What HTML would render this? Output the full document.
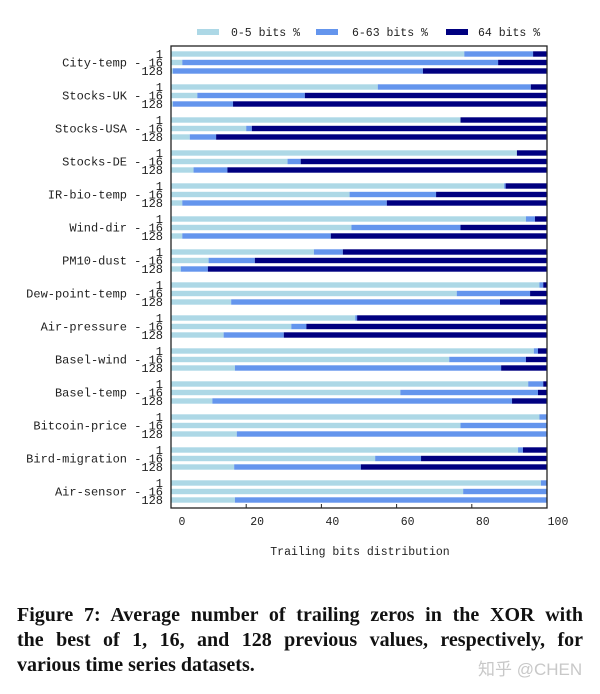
<!DOCTYPE html>
<html><head><meta charset="utf-8">
<style>
body{margin:0;background:#fff;width:600px;height:694px;overflow:hidden;position:relative}
#cap{position:absolute;left:17px;top:603px;width:566px;font:bold 20px/25px "Liberation Serif",serif;color:#111}
#cap div{white-space:nowrap}
#cap .j{text-align:justify;text-align-last:justify;white-space:normal}
#wm{position:absolute;left:478px;top:655px;font:17px "Liberation Sans","Noto Sans CJK SC",sans-serif;color:#c8c8c8}
</style></head><body>
<svg id="chart" width="600" height="600" style="position:absolute;left:0;top:0" font-family="Liberation Mono, monospace"></svg>
<div id="cap"><div class="j">Figure 7: Average number of trailing zeros in the XOR with</div><div class="j">the best of 1, 16, and 128 previous values, respectively, for</div><div>various time series datasets.</div></div>
<div id="wm">知乎 @CHEN</div>
<script>
const datasets=["City-temp","Stocks-UK","Stocks-USA","Stocks-DE","IR-bio-temp","Wind-dir","PM10-dust","Dew-point-temp","Air-pressure","Basel-wind","Basel-temp","Bitcoin-price","Bird-migration","Air-sensor"];
const windows=["1","16","128"];
// 0-5 bits % per dataset, rows [1,16,128]
const low=[[78,3,0.5],[55,7,0.5],[77,20,5],[92,31,6],[88.6,47.5,3],[94.4,48,3],[38,10,2.6],[98,76,16],[49,32,14],[96.5,74,17],[95,61,11],[98,77,17.5],[92.3,54.3,16.8],[98.4,77.7,17]];
// 6-63 bits %
const mid=[[18.3,84,66.5],[40.7,28.6,16],[0,1.5,7],[0,3.5,9],[0.4,23,54.4],[2.4,29,39.5],[7.7,12.3,7.2],[1,19.5,71.5],[0.5,4,16],[1.1,20.4,70.8],[4,36.6,79.7],[2,23,82.5],[1.3,12.2,33.7],[1.6,22.3,83]];
// 64 bits % = remainder
const xTicks=[0,20,40,60,80,100];
const legendLabels=["0-5 bits %","6-63 bits %","64 bits %"];
const colors=["#add8e6","#6495ed","#000080"];
const svg=document.getElementById('chart');
const NS="http://www.w3.org/2000/svg";
const L=171,R=547,T=46,B=508;
const x=v=>L+(R-L)*v/100;
const yRow=(g,r)=>54+g*33+r*8.5;
function mk(tag,attrs,parent){const e=document.createElementNS(NS,tag);for(const k in attrs)e.setAttribute(k,attrs[k]);(parent||svg).appendChild(e);return e;}
const lx=[197,316,446],tx=[231,352,478];
legendLabels.forEach((l,i)=>{
 const r=mk('rect',{x:lx[i],y:29,width:22,height:6,fill:colors[i]});
 
 
 const t=mk('text',{x:tx[i],y:36,'font-size':11.5,fill:'#222'});
 t.textContent=l;
 
 
});
datasets.forEach((d,g)=>{
 windows.forEach((w,r)=>{
  const vals=[low[g][r],mid[g][r],Math.max(0,100-low[g][r]-mid[g][r])];
  let acc=0;const y=yRow(g,r);
  vals.forEach((v,s)=>{
   if(v>0){const b=mk('rect',{x:x(acc),y:y-2.7,width:x(acc+v)-x(acc),height:5.4,fill:colors[s]});
   
   }
   acc+=v;
  });
  const t=mk('text',{x:163,y:y+4,'font-size':12,'text-anchor':'end',fill:'#222'});
  t.textContent=(r===1?d+" - ":"")+w;
  
  
 });
});
const f=mk('rect',{x:L,y:T,width:R-L,height:B-T,fill:'none',stroke:'#222','stroke-width':1.3});


xTicks.forEach(v=>{
 const tk=mk('line',{x1:x(v),x2:x(v),y1:B,y2:B-4,stroke:'#222'});
 
 
 const t=mk('text',{x:x(v)+11,y:525,'font-size':11.5,'text-anchor':'middle',fill:'#222'});
 t.textContent=v;
 
 
});
const at=mk('text',{x:360,y:555,'font-size':11.5,'text-anchor':'middle',fill:'#222'});
at.textContent="Trailing bits distribution";


</script>
</body></html>
